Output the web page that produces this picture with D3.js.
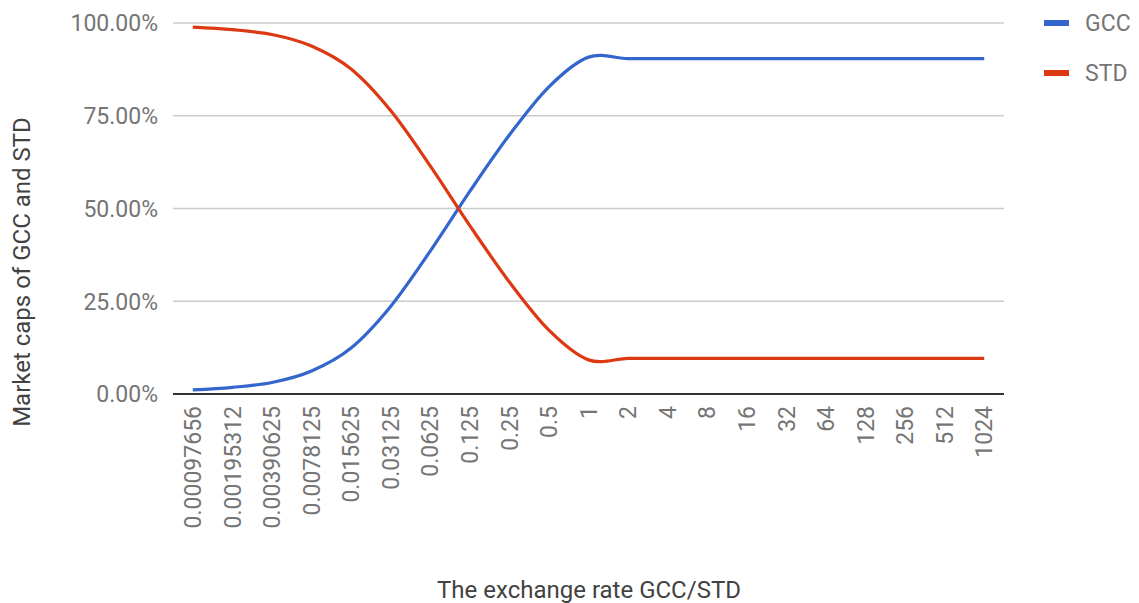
<!DOCTYPE html>
<html>
<head>
<meta charset="utf-8">
<style>
  body { margin: 0; background: #fff; }
  text { font-family: Roboto, "Noto Sans", sans-serif; }
  .tick-label { font-size: 23px; fill: #757575; }
  .axis-title { font-size: 24px; fill: #424242; }
  .grid { stroke: #ccc; stroke-width: 1.3px; }
  .baseline { stroke: #333; stroke-width: 2px; }
  .line { fill: none; stroke-width: 3.2px; }
</style>
</head>
<body>
<svg id="chart" width="1139" height="603"></svg>

<script src="https://d3js.org/d3.v7.min.js"></script>
<script>
  const rates = ["0.00097656", "0.00195312", "0.00390625", "0.0078125", "0.015625",
    "0.03125", "0.0625", "0.125", "0.25", "0.5", "1", "2", "4", "8", "16", "32",
    "64", "128", "256", "512", "1024"];

  // shares in percent
  const gcc = [1.1, 1.8, 3.1, 6.2, 12.4, 23.6, 38.5, 54.6, 69.8, 82.8, 90.8,
    90.4, 90.4, 90.4, 90.4, 90.4, 90.4, 90.4, 90.4, 90.4, 90.4];
  const std = [98.9, 98.2, 96.9, 93.8, 87.6, 76.4, 61.5, 45.4, 30.2, 17.2, 9.2,
    9.6, 9.6, 9.6, 9.6, 9.6, 9.6, 9.6, 9.6, 9.6, 9.6];

  const yTicks = [0, 25, 50, 75, 100];
  const seriesNames = ["GCC", "STD"];
  const seriesColors = ["#3366cc", "#dc3912"];

  const svg = d3.select("#chart");
  const plotLeft = 173, plotRight = 1004, plotTop = 23, plotBottom = 394;

  const x = d3.scalePoint()
    .domain(rates)
    .range([plotLeft, plotRight])
    .padding(0.5);

  const y = d3.scaleLinear()
    .domain([0, 100])
    .range([plotBottom, plotTop]);

  // gridlines
  svg.append("g")
    .selectAll("line")
    .data(yTicks.filter(d => d !== 0))
    .join("line")
    .attr("class", "grid")
    .attr("x1", plotLeft)
    .attr("x2", plotRight)
    .attr("y1", d => y(d))
    .attr("y2", d => y(d));

  // y labels
  svg.append("g")
    .selectAll("text")
    .data(yTicks)
    .join("text")
    .attr("class", "tick-label")
    .attr("x", 158)
    .attr("y", d => y(d))
    .attr("dy", "0.36em")
    .attr("text-anchor", "end")
    .text(d => d3.format(".2f")(d) + "%");

  // x labels, rotated
  svg.append("g")
    .selectAll("text")
    .data(rates)
    .join("text")
    .attr("class", "tick-label")
    .attr("text-anchor", "end")
    .attr("dy", "0.36em")
    .attr("transform", d => `translate(${x(d)},406) rotate(-90)`)
    .text(d => d);

  const line = d3.line()
    .x((d, i) => x(rates[i]))
    .y(d => y(d))
    .curve(d3.curveCardinal.tension(0));

  [gcc, std].forEach((values, k) => {
    svg.append("path")
      .datum(values)
      .attr("class", "line")
      .attr("stroke", seriesColors[k])
      .attr("d", line);
  });

  svg.append("line")
    .attr("class", "baseline")
    .attr("x1", plotLeft)
    .attr("x2", plotRight)
    .attr("y1", y(0))
    .attr("y2", y(0));

  // legend
  const legend = svg.append("g")
    .selectAll("g")
    .data(seriesNames)
    .join("g")
    .attr("transform", (d, i) => `translate(1044,${23 + i * 50})`);

  legend.append("rect")
    .attr("x", 0)
    .attr("y", -3)
    .attr("width", 25)
    .attr("height", 6)
    .attr("fill", (d, i) => seriesColors[i]);

  legend.append("text")
    .attr("class", "tick-label")
    .attr("x", 41)
    .attr("dy", "0.36em")
    .text(d => d);

  // axis titles
  svg.append("text")
    .attr("class", "axis-title")
    .attr("x", 589)
    .attr("y", 598)
    .attr("text-anchor", "middle")
    .text("The exchange rate GCC/STD");

  svg.append("text")
    .attr("class", "axis-title")
    .attr("text-anchor", "middle")
    .attr("transform", "translate(30,272) rotate(-90)")
    .text("Market caps of GCC and STD");
</script>
</body>
</html>
